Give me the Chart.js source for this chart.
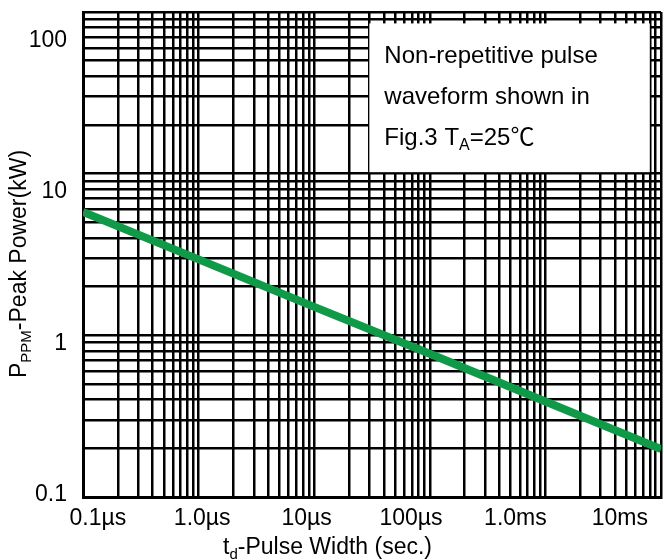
<!DOCTYPE html>
<html>
<head>
<meta charset="utf-8">
<script src="https://cdn.jsdelivr.net/npm/chart.js@4"></script>
<style>
  html, body { margin: 0; padding: 0; background: #fff; }
  canvas { display: block; }
</style>
</head>
<body>
<canvas id="pulseChart" width="664" height="560"></canvas>
<script>
// pulse width (s) vs peak pulse power (kW)
const pulseWidths = [1e-7, 1e-6, 1e-5, 1e-4, 1e-3, 1e-2];
const peakPowerKW = [5.8, 2.95, 1.5, 0.77, 0.39, 0.198];

// tick labels
const xTickValues = [1e-7, 1e-6, 1e-5, 1e-4, 1e-3, 1e-2];
const xTickLabels = ["0.1\u00b5s", "1.0\u00b5s", "10\u00b5s", "100\u00b5s", "1.0ms", "10ms"];
const yTickValues = [0.1, 1, 10, 100];
const yTickLabels = ["0.1", "1", "10", "100"];

const noteLines = [
    [{ t: "Non-repetitive pulse" }],
    [{ t: "waveform shown in" }],
    [{ t: "Fig.3 T" }, { t: "A", sub: true }, { t: "=25\u2103" }]
];
const xTitle = [{ t: "t" }, { t: "d", sub: true }, { t: "-Pulse Width (sec.)" }];
const yTitle = [{ t: "P" }, { t: "PPM", sub: true }, { t: "-Peak Power(kW)" }];

const FONT = '"Liberation Sans", Arial, "Noto Sans CJK SC", sans-serif';

// all 1..9 x 10^n values between lo and hi, for the log grid
function logGrid(lo, hi) {
    const out = [];
    for (let e = Math.floor(Math.log10(lo)); e <= Math.ceil(Math.log10(hi)); e++) {
        for (let m = 1; m <= 9; m++) {
            const v = m * Math.pow(10, e);
            if (v >= lo * 0.999 && v <= hi * 1.001) out.push({ value: v });
        }
    }
    return out;
}

function drawRich(ctx, parts, x, y, size) {
    for (const p of parts) {
        const s = p.sub ? Math.round(size * 0.65) : size;
        ctx.font = s + "px " + FONT;
        ctx.fillText(p.t, x, p.sub ? y + size * 0.2 : y);
        x += ctx.measureText(p.t).width;
    }
}

const textPlugin = {
    id: "texts",
    afterDraw(chart) {
        const ctx = chart.ctx;
        const xs = chart.scales.x, ys = chart.scales.y;
        ctx.save();
        ctx.fillStyle = "#000";
        ctx.textAlign = "left";
        ctx.textBaseline = "alphabetic";

        // note box
        const bx0 = xs.getPixelForValue(3e-5), bx1 = xs.getPixelForValue(8e-3);
        const by0 = ys.getPixelForValue(85), by1 = ys.getPixelForValue(10) - 1.5;
        ctx.fillStyle = "#fff";
        ctx.fillRect(bx0, by0, bx1 - bx0, by1 - by0);
        ctx.fillStyle = "#000";
        noteLines.forEach((line, i) => {
            drawRich(ctx, line, bx0 + 15, by0 + 40 + i * 41, 24);
        });

        // axis titles
        drawRich(ctx, xTitle, 223, 554, 23);
        ctx.translate(26, 378);
        ctx.rotate(-Math.PI / 2);
        drawRich(ctx, yTitle, 0, 0, 23);
        ctx.restore();
    }
};

const ctx = document.getElementById("pulseChart").getContext("2d");
new Chart(ctx, {
    type: "line",
    data: {
        datasets: [{
            data: pulseWidths.map((x, i) => ({ x: x, y: peakPowerKW[i] })),
            borderColor: "#0f9a48",
            borderWidth: 8,
            borderCapStyle: "butt",
            pointRadius: 0,
            tension: 0,
            clip: 0,
            xAxisID: "x",
            yAxisID: "y"
        }]
    },
    options: {
        responsive: false,
        animation: false,
        devicePixelRatio: 1,
        layout: { padding: { top: 12, right: 3, left: 0, bottom: 0 } },
        plugins: { legend: { display: false }, tooltip: { enabled: false } },
        scales: {
            x: {
                type: "logarithmic",
                position: "bottom",
                weight: 0,
                min: 1e-7,
                max: 1e-2,
                afterBuildTicks: s => { s.ticks = logGrid(1e-7, 1e-2); },
                afterFit: s => { s.height = 0; s.paddingLeft = 0; s.paddingRight = 0; },
                ticks: { display: false },
                grid: { color: "#000", lineWidth: 2.5, drawTicks: false },
                border: { color: "#000", width: 3 }
            },
            y: {
                type: "logarithmic",
                position: "left",
                weight: 0,
                min: 0.1,
                max: 100,
                afterBuildTicks: s => { s.ticks = logGrid(0.1, 100); },
                afterFit: s => { s.width = 0; s.paddingTop = 0; s.paddingBottom = 0; },
                ticks: { display: false },
                grid: { color: "#000", lineWidth: 2.5, drawTicks: false },
                border: { color: "#000", width: 3 }
            },
            // label axes: the printed labels sit off the grid in the original
            xLabels: {
                type: "logarithmic",
                position: "bottom",
                weight: 1,
                min: 7.21e-8,
                max: 0.0248,
                afterBuildTicks: s => { s.ticks = xTickValues.map(v => ({ value: v })); },
                afterFit: s => { s.height = 63; s.paddingLeft = 0; s.paddingRight = 0; },
                grid: { display: false, drawTicks: false },
                border: { display: false },
                ticks: {
                    autoSkip: false,
                    maxRotation: 0,
                    padding: 8,
                    color: "#000",
                    font: { family: FONT, size: 23 },
                    callback: (v, i) => xTickLabels[i]
                }
            },
            yLabels: {
                type: "logarithmic",
                position: "left",
                weight: 1,
                min: 0.097,
                max: 154,
                afterBuildTicks: s => { s.ticks = yTickValues.map(v => ({ value: v })); },
                afterFit: s => { s.width = 83; s.paddingTop = 0; s.paddingBottom = 0; },
                grid: { display: false, drawTicks: false },
                border: { display: false },
                ticks: {
                    autoSkip: false,
                    padding: 16,
                    color: "#000",
                    font: { family: FONT, size: 23 },
                    callback: (v, i) => yTickLabels[i]
                }
            }
        }
    },
    plugins: [textPlugin]
});
</script>
</body>
</html>
